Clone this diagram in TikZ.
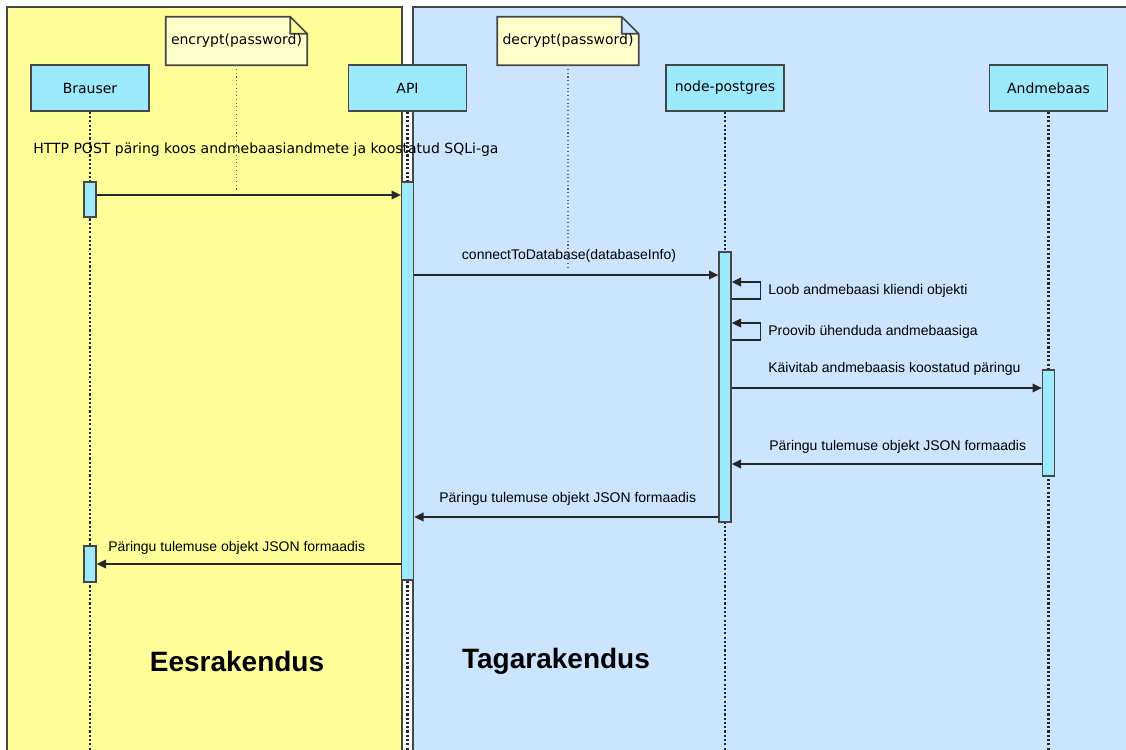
\documentclass[tikz,border=0pt]{standalone}
\usepackage{fontspec}
\setmainfont{Liberation Sans}
\newfontfamily\dejavu{DejaVu Sans}
\usetikzlibrary{arrows.meta,calc,backgrounds}
\definecolor{frontcol}{RGB}{255,255,153}
\definecolor{backcol}{RGB}{204,229,255}
\definecolor{objcol}{RGB}{157,234,255}
\definecolor{notecol}{RGB}{255,255,204}
\definecolor{edgecol}{RGB}{70,70,70}

\begin{document}
\begin{tikzpicture}
  [x=0.75pt,y=-0.75pt,
   obj/.style={draw=edgecol,line width=1.2pt,fill=objcol,minimum width=88.5pt,minimum height=34.5pt,font=\dejavu\fontsize{10.5}{12}\selectfont},
   bar/.style={draw=edgecol,line width=1pt,fill=objcol,minimum width=9pt,inner sep=0pt},
   note/.style={minimum width=105.75pt,minimum height=36pt,inner sep=0pt,font=\dejavu\fontsize{10.5}{12}\selectfont},
   lbl/.style={font=\fontsize{10.5}{12}\selectfont,inner sep=0pt},
   msg/.style={draw=black!85,line width=1.1pt,-{Triangle[length=7pt,width=6.5pt]}},
   life/.style={draw=black!85,line width=1.6pt,dash pattern=on 1.6pt off 1.6pt},
   hint/.style={draw=black!60,line width=0.8pt,dotted},
   title/.style={font=\bfseries\fontsize{21}{24}\selectfont}]
  \useasboundingbox (0,0) rectangle (1126,749);
  \begin{scope}[on background layer]
    \fill[white] (0,0) rectangle (1126,749);
    \filldraw[fill=frontcol,draw=edgecol,line width=1.5pt] (7,7) rectangle (402,760);
    \filldraw[fill=backcol,draw=edgecol,line width=1.5pt] (413,7) rectangle (1140,760);
  \end{scope}

  % objects
  \node[obj] (brauser) at (90,88)    {Brauser};
  \node[obj] (api)     at (407.5,88) {API};
  \node[obj] (pg)      at (725,88)   {node-postgres};
  \node[obj] (db)      at (1048.5,88) {Andmebaas};
  \node[note] (encnote) at (236.5,41) {encrypt(password)};
  \node[note] (decnote) at (568,41)   {decrypt(password)};
  \begin{scope}[on background layer]
    \foreach \n in {encnote,decnote}
      \filldraw[fill=notecol,draw=edgecol,line width=1.2pt]
        (\n.south west) -- (\n.north west) -- ($(\n.north east)+(-17,0)$)
        -- ($(\n.north east)+(0,17)$) -- (\n.south east) -- cycle
        ($(\n.north east)+(-17,0)$) -- ($(\n.north east)+(-17,17)$) -- ($(\n.north east)+(0,17)$);
  \end{scope}

  % lifelines
  \coordinate (bottom) at (0,760);
  \foreach \n in {brauser,api,pg,db}
    \draw[life] (\n.south) -- (\n.south |- bottom);
  \draw[hint] (encnote.south) -- (encnote.south |- 0,190);
  \draw[hint] (decnote.south) -- (decnote.south |- 0,270);

  % activations
  \node[bar,minimum height=26.25pt] (brA1) at (90,199.5) {};
  \node[bar,minimum height=27pt]    (brA2) at (90,564) {};
  \node[bar,minimum height=298.5pt] (apiA) at (407.5,381) {};
  \node[bar,minimum height=202.5pt] (pgA)  at (725,387) {};
  \node[bar,minimum height=79.5pt]  (dbA)  at (1048.5,423) {};

  % messages
\foreach \from/\to/\y in
{brA1.east/apiA.west/195, apiA.east/pgA.west/275, pgA.east/dbA.west/388,
 dbA.west/pgA.east/464, pgA.west/apiA.east/517, apiA.west/brA2.east/564}
    \draw[msg] (\from |- 0,\y) -- (\to |- 0,\y);
\foreach \y in {299,340}
    \draw[msg] (pgA.east |- 0,\y) -- ++(29,0) -- ++(0,-17) -- (pgA.east |- 0,\y-17);

  \node[lbl,font=\dejavu\fontsize{10.5}{12}\selectfont,anchor=west] (l1) at (33,150) {HTTP POST päring koos andmebaasiandmete ja koostatud SQLi-ga};
  \node[lbl] (l2) at (569,256) {connectToDatabase(databaseInfo)};
  \node[lbl,anchor=west] (l3) at (768,291) {Loob andmebaasi kliendi objekti};
  \node[lbl,anchor=west] (l4) at (768,332) {Proovib ühenduda andmebaasiga};
  \node[lbl,anchor=west] (l5) at (768,369) {Käivitab andmebaasis koostatud päringu};
  \node[lbl,anchor=west] (l6) at (769,447) {Päringu tulemuse objekt JSON formaadis};
  \node[lbl,anchor=west] (l7) at (439,499) {Päringu tulemuse objekt JSON formaadis};
  \node[lbl,anchor=west] (l8) at (108,548) {Päringu tulemuse objekt JSON formaadis};

  \node[title] (front) at (237,661) {Eesrakendus};
  \node[title] (back)  at (556,661) {Tagarakendus};
\end{tikzpicture}
\end{document}
